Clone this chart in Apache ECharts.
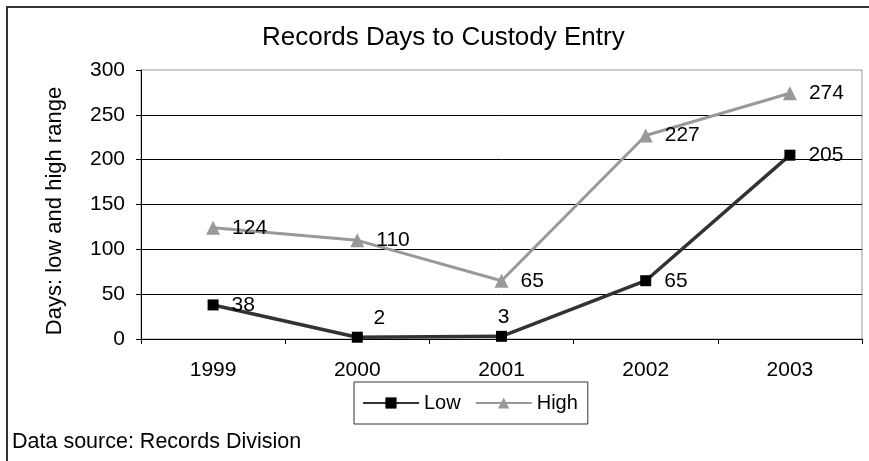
<!DOCTYPE html>
<html>
<head>
<meta charset="utf-8">
<title>Records Days to Custody Entry</title>
<script src="https://cdn.jsdelivr.net/npm/echarts@6/dist/echarts.min.js"></script>
<style>
  html, body { margin: 0; padding: 0; background: #fff; }
  #chart { width: 869px; height: 461px; }
</style>
</head>
<body>
<div id="chart"></div>
<script>
// Chart data
const years = ['1999', '2000', '2001', '2002', '2003'];
const lowDays = [38, 2, 3, 65, 205];
const highDays = [124, 110, 65, 227, 274];
const seriesNames = ['Low', 'High'];

const FONT = 'Liberation Sans, Arial, sans-serif';

// Per-point label placement for the low series (small values sit above the marker)
const lowLabelPos = ['right', 'top', 'top', 'right', 'right'];
const lowLabelOffset = [[0, 0], [22, 0], [2, 0], [0, 0], [0, 0]];
const lowLabelDist = [13, 3, 3, 13, 13];

const chart = echarts.init(document.getElementById('chart'), null, { renderer: 'canvas' });

const option = {
  animation: false,
  backgroundColor: '#fff',
  textStyle: { fontFamily: FONT, color: '#000' },
  title: {
    text: 'Records Days to Custody Entry',
    left: 262,
    top: 25,
    padding: 0,
    textStyle: { fontFamily: FONT, fontSize: 26, fontWeight: 'normal', color: '#000' }
  },
  graphic: [
    {
      type: 'rect',
      shape: { x: 7, y: 7, width: 900, height: 500 },
      style: { fill: null, stroke: '#333', lineWidth: 2 },
      silent: true
    },
    {
      type: 'text',
      x: 55,
      y: 211,
      rotation: Math.PI / 2,
      style: {
        text: 'Days: low and high range',
        font: '22px ' + FONT,
        fill: '#000',
        align: 'center',
        verticalAlign: 'middle'
      }
    },
    {
      type: 'text',
      left: 12,
      top: 431,
      style: {
        text: 'Data source: Records Division',
        font: '21.5px ' + FONT,
        fill: '#000'
      }
    }
  ],
  legend: {
    data: seriesNames,
    left: 354,
    top: 382,
    orient: 'horizontal',
    padding: [11, 10, 11, 8],
    itemGap: 14,
    itemWidth: 56,
    itemHeight: 14,
    borderColor: '#333',
    borderWidth: 1,
    textStyle: { fontFamily: FONT, fontSize: 20, color: '#000' }
  },
  grid: {
    left: 141,
    top: 70,
    right: 7,
    bottom: 122,
    show: true,
    borderColor: '#999',
    borderWidth: 1,
    backgroundColor: 'transparent'
  },
  xAxis: {
    type: 'category',
    data: years,
    boundaryGap: true,
    axisLine: { lineStyle: { color: '#000', width: 1 } },
    axisTick: { show: true, alignWithLabel: false, length: 5, lineStyle: { color: '#000' } },
    axisLabel: { fontFamily: FONT, fontSize: 21, color: '#000', margin: 21 },
    splitLine: { show: false }
  },
  yAxis: {
    type: 'value',
    min: 0,
    max: 300,
    interval: 50,
    axisLine: { show: true, lineStyle: { color: '#000', width: 1 } },
    axisTick: { show: true, length: 5, lineStyle: { color: '#000' } },
    axisLabel: { fontFamily: FONT, fontSize: 21, color: '#000', margin: 16 },
    splitLine: { show: true, showMaxLine: false, lineStyle: { color: '#000', width: 1 } }
  },
  series: [
    {
      name: 'Low',
      type: 'line',
      data: lowDays.map((v, i) => ({
        value: v,
        label: { position: lowLabelPos[i], offset: lowLabelOffset[i], distance: lowLabelDist[i] }
      })),
      symbol: 'rect',
      symbolSize: 11,
      showAllSymbol: true,
      lineStyle: { color: '#333', width: 3.5 },
      itemStyle: { color: '#000', borderWidth: 0 },
      label: {
        show: true,
        position: 'right',
        distance: 13,
        fontFamily: FONT,
        fontSize: 21,
        color: '#000'
      },
      z: 3
    },
    {
      name: 'High',
      type: 'line',
      data: highDays,
      symbol: 'triangle',
      symbolSize: 14,
      showAllSymbol: true,
      lineStyle: { color: '#999', width: 3 },
      itemStyle: { color: '#999', borderWidth: 0 },
      label: {
        show: true,
        position: 'right',
        distance: 12,
        fontFamily: FONT,
        fontSize: 21,
        color: '#000'
      },
      z: 2
    }
  ]
};

chart.setOption(option);
</script>
</body>
</html>
